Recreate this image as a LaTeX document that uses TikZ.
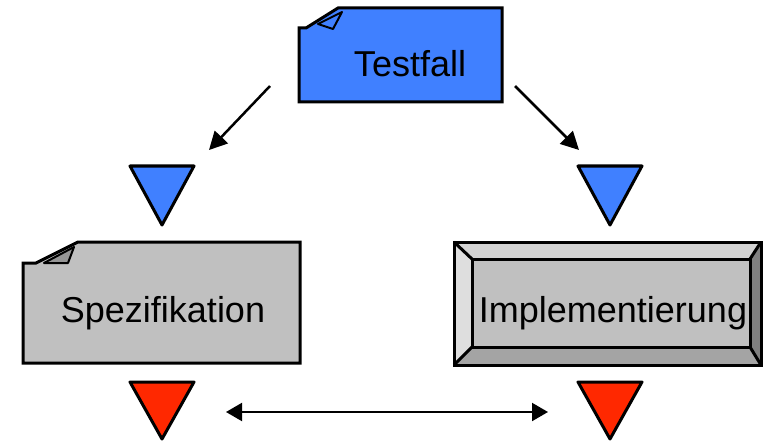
\documentclass[tikz,border=0pt]{standalone}
\usepackage{fontspec}
\setmainfont{Liberation Sans}
\usetikzlibrary{arrows.meta}
\definecolor{tfblue}{RGB}{64,128,255}
\definecolor{tfred}{RGB}{255,40,0}
\definecolor{boxgray}{RGB}{192,192,192}
\definecolor{bevtop}{RGB}{210,210,210}
\definecolor{bevleft}{RGB}{222,222,222}
\definecolor{bevright}{RGB}{128,128,128}
\definecolor{bevbot}{RGB}{164,164,164}
\definecolor{flapgray}{RGB}{150,150,150}
\tikzset{
  outline/.style={draw=black, line width=3pt, line join=miter},
  thinout/.style={draw=black, line width=2pt, line join=round},
  label/.style={inner sep=0pt, anchor=base, font=\fontsize{36}{40}\selectfont},
  flow/.style={line width=2.5pt, -{Triangle[length=18pt,width=18pt]}},
  link/.style={line width=2pt, {Triangle[length=16pt,width=18pt]}-{Triangle[length=16pt,width=18pt]}},
  marker/.style={draw=black, line width=3pt, line join=round}
}
\begin{document}
\begin{tikzpicture}[x=1pt,y=-1pt]
\useasboundingbox (0,0) rectangle (763,441);

% Testfall box (dog-ear)
\path[outline, fill=tfblue] (299,28) -- (306,28) -- (338,8) -- (502,8) -- (502,102) -- (299,102) -- cycle;
\path[thinout, fill=tfblue] (318,24) -- (342,12) -- (333,29) -- cycle;
\node[label] (testfall) at (410,77) {Testfall};

% Spezifikation box (dog-ear)
\path[outline, fill=boxgray] (23,263) -- (36,263) -- (78,242) -- (300,242) -- (300,363) -- (23,363) -- cycle;
\path[thinout, fill=flapgray] (44,263) -- (74,247) -- (68,263) -- cycle;
\node[label] (spez) at (163,322) {Spezifikation};

% Implementierung box (bevelled)
\path[fill=bevtop] (454,242) -- (762,242) -- (750,259) -- (472,259) -- cycle;
\path[fill=bevleft] (454,242) -- (472,259) -- (472,347) -- (454,365) -- cycle;
\path[fill=bevright] (762,242) -- (762,365) -- (750,347) -- (750,259) -- cycle;
\path[fill=bevbot] (454,365) -- (762,365) -- (750,347) -- (472,347) -- cycle;
\path[outline, fill=boxgray] (472,259) rectangle (750,347);
\path[outline] (454,242) rectangle (761,365);
\draw[line width=3pt] (454,242) -- (472,259) (761,242) -- (750,259)
  (454,365) -- (472,347) (761,365) -- (750,347);
\node[label] (impl) at (613,322) {Implementierung};

% markers
\coordinate (bl1) at (130,166); \coordinate (bl2) at (194,166); \coordinate (bl3) at (162,225);
\coordinate (br1) at (578,166); \coordinate (br2) at (642,166); \coordinate (br3) at (610,225);
\coordinate (rl1) at (130,382); \coordinate (rl2) at (194,382); \coordinate (rl3) at (162,439);
\coordinate (rr1) at (578,382); \coordinate (rr2) at (642,382); \coordinate (rr3) at (610,439);
\path[marker, fill=tfblue] (bl1) -- (bl2) -- (bl3) -- cycle;
\path[marker, fill=tfblue] (br1) -- (br2) -- (br3) -- cycle;
\path[marker, fill=tfred] (rl1) -- (rl2) -- (rl3) -- cycle;
\path[marker, fill=tfred] (rr1) -- (rr2) -- (rr3) -- cycle;

% arrows
\coordinate (a1s) at (270,86); \coordinate (a1e) at (209,150);
\coordinate (a2s) at (515,86); \coordinate (a2e) at (579,150);
\coordinate (d1) at (226,412); \coordinate (d2) at (548,412);
\draw[flow] (a1s) -- (a1e);
\draw[flow] (a2s) -- (a2e);
\draw[link] (d1) -- (d2);
\end{tikzpicture}
\end{document}
